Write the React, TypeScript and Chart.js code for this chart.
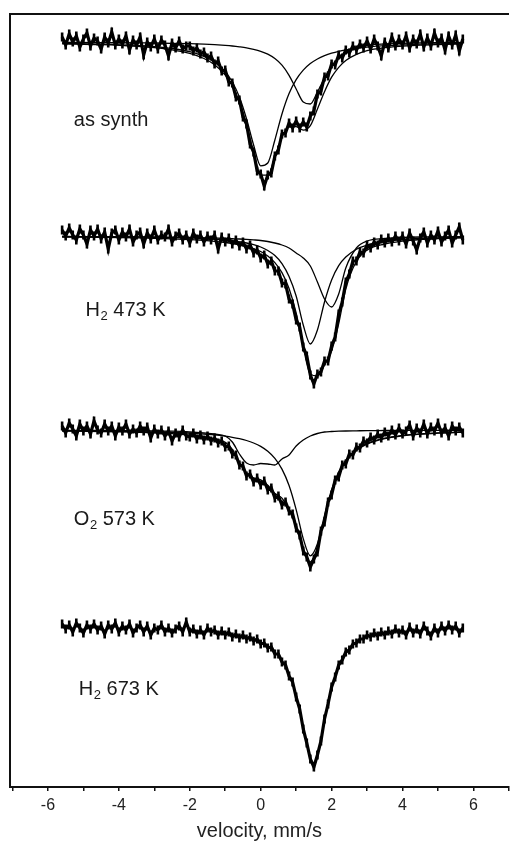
import { useEffect, useRef } from "react";
import { Chart, registerables } from "chart.js";

Chart.register(...registerables);

// Doppler velocity channels (mm/s)
const velocity = [
  -5.6, -5.5, -5.4, -5.3, -5.2, -5.1, -5.0, -4.9, -4.8, -4.7, -4.6, -4.5, -4.4, -4.3, -4.2, -4.1, -4.0, -3.9, -3.8, -3.7,
  -3.6, -3.5, -3.4, -3.3, -3.2, -3.1, -3.0, -2.9, -2.8, -2.7, -2.6, -2.5, -2.4, -2.3, -2.2, -2.1, -2.0, -1.9, -1.8, -1.7,
  -1.6, -1.5, -1.4, -1.3, -1.2, -1.1, -1.0, -0.9, -0.8, -0.7, -0.6, -0.5, -0.4, -0.3, -0.2, -0.1, 0.0, 0.1, 0.2, 0.3,
  0.4, 0.5, 0.6, 0.7, 0.8, 0.9, 1.0, 1.1, 1.2, 1.3, 1.4, 1.5, 1.6, 1.7, 1.8, 1.9, 2.0, 2.1, 2.2, 2.3,
  2.4, 2.5, 2.6, 2.7, 2.8, 2.9, 3.0, 3.1, 3.2, 3.3, 3.4, 3.5, 3.6, 3.7, 3.8, 3.9, 4.0, 4.1, 4.2, 4.3,
  4.4, 4.5, 4.6, 4.7, 4.8, 4.9, 5.0, 5.1, 5.2, 5.3, 5.4, 5.5, 5.6, 5.7,
];

// Measured spectra: relative transmission change (%) per channel
const asSynth = [
  0.5, -0.3, 0.8, 0.0, 0.6, -0.5, 0.3, 0.9, -0.4, 0.4, 0.1, -0.7, 0.5, -0.1, 1.0, -0.3, 0.3, -0.2, 0.6, -0.8,
  0.2, -0.3, 0.5, -1.3, 0.0, -0.5, 0.3, -0.7, 0.2, -0.3, -1.4, -0.1, -0.6, 0.1, -0.7, -0.4,
  -0.4, -0.9, -0.6, -1.2, -1.0, -1.6, -1.4, -2.2, -1.9, -2.9, -2.8, -4.0, -4.1, -5.5, -5.8, -7.5, -8.2, -10.2, -11.0, -12.9,
  -13.2, -14.4, -13.3, -13.1, -11.4, -10.8, -9.2, -9.1, -8.1, -8.6, -7.9, -8.6, -8.0, -8.5, -7.4, -6.9, -5.2, -4.9, -3.5, -3.4,
  -2.2, -2.3, -1.3, -1.6, -0.8, -1.1, -0.4, -0.8, -0.2, -0.6,
  0.1, -0.7, 0.3, -0.4, -1.4, 0.0, -0.6, 0.5, -0.4, 0.3, -0.3, 0.6, -0.6, 0.3, -0.2, 0.8, -0.5, 0.4, -0.4, 0.9,
  -0.1, 0.4, -0.8, 0.6, -0.3, 0.7, -0.9, 0.3,
];
const h2At473 = [
  0.6, 0.0, 0.8, 0.1, -0.4, 0.7, 0.1, -0.8, 0.6, 0.0, 0.7, -0.3, 0.4, -1.3, 0.3, 0.6, -0.4, 0.4, -0.1, 0.7,
  -0.6, 0.1, 0.4, -0.8, 0.3, -0.3, 0.6, -0.4, 0.1, -0.1, 0.7, -0.6, 0.0, 0.3, -0.4, 0.1, -0.7, 0.3, -0.3, 0.1,
  -0.6, 0.0, -0.4, 0.1, -1.3, -0.1,
  -0.6, -0.2, -0.8, -0.4, -1.0, -0.6, -1.3, -0.9, -1.7, -1.4, -2.2, -1.9, -2.8, -2.5, -3.5, -3.5, -4.7, -4.8, -6.3, -6.8,
  -8.4, -9.1, -11.1, -12.0, -13.9, -14.8, -13.8, -13.6, -12.5, -12.5, -11.0, -10.1, -7.8, -6.6, -4.6, -3.8, -2.5, -2.5, -1.6, -1.7,
  -0.9, -1.2, -0.6, -0.9, -0.3, -0.7, -0.2, -0.6, 0.0, -0.5,
  0.0, -0.8, 0.3, -0.5, -1.4, -0.2, 0.4, -0.7, 0.1, -0.4, 0.5, -0.6, 0.0, 0.6, -0.7, 0.1, 0.9, -0.4,
];
const o2At573 = [
  0.4, -0.3, 0.7, 0.1, -0.6, 0.6, -0.1, 0.4, -0.4, 0.9, 0.0, -0.3, 0.6, -0.1, 0.4, -0.6, 0.3, -0.1, 0.6, -0.4,
  0.1, -0.3, 0.4, -0.1, 0.3, -0.8, 0.1, -0.4, 0.0, -0.6, -0.1, -1.1, -0.3, -0.7, 0.0, -0.6,
  -0.7, -0.3, -0.9, -0.5, -1.0, -0.6, -1.1, -0.8, -1.3, -1.1, -1.7, -1.6, -2.4, -2.5, -3.5, -3.6, -4.6, -4.4, -5.2, -4.8,
  -5.5, -5.1, -6.0, -5.8, -6.8, -6.6, -7.5, -7.2, -8.1, -8.4, -9.8, -10.5, -12.1, -12.7, -13.7, -12.9, -12.2, -10.1, -9.2, -7.2,
  -6.5, -5.0, -4.7, -3.5, -3.4, -2.4, -2.5, -1.7, -1.8, -1.1, -1.3, -0.7, -1.0, -0.4, -0.8, -0.2, -0.6, 0.0, -0.5, 0.2,
  -0.4, -0.1, 0.5, -0.6, 0.2, -0.3, 0.6, -0.4, 0.3, -0.1, 0.7, -0.3, 0.2, -0.6, 0.4, -0.1, 0.3, -0.3,
];
const h2At673 = [
  0.5, 0.0, 0.4, -0.3, 0.6, 0.1, -0.4, 0.4, 0.0, 0.5, -0.1, 0.3, -0.5, 0.4, 0.0, 0.6, -0.3, 0.3, -0.1, 0.5,
  -0.4, 0.1, 0.4, -0.3, 0.3, -0.6, 0.1, -0.1, 0.4, -0.3, 0.1, -0.4, 0.0, 0.3, -0.3, 0.7, -0.3, 0.0, -0.5, -0.1,
  -0.6, 0.1, -0.3, -0.1, -0.6, -0.2,
  -0.6, -0.3, -0.8, -0.5, -0.9, -0.6, -1.0, -0.8, -1.2, -1.0, -1.5, -1.4, -1.9, -1.8, -2.5, -2.5, -3.3, -3.6, -4.7, -5.3,
  -6.8, -8.0, -10.0, -11.4, -13.0, -13.8, -12.6, -11.2, -9.0, -7.5, -5.8, -4.8, -3.6, -3.1, -2.3, -2.1, -1.5, -1.4, -1.0, -1.0,
  -0.6, -0.8, -0.4, -0.7, -0.3, -0.6, -0.2, -0.5, 0.0, -0.4, -0.1, -0.6, 0.2, -0.4, 0.0, -0.5, 0.3, -0.2, -0.7, 0.1,
  -0.4, 0.3, -0.2, 0.4, -0.1, 0.3, -0.4, 0.1,
];

// Fitted sub-spectra, sampled at these velocities (mm/s)
const fitVelocity = [
  -5.6, -4.5, -3.5, -3.0, -2.5, -2.0, -1.6, -1.3, -1.0, -0.8, -0.6, -0.4, -0.2, 0.0, 0.2, 0.4, 0.6,
  0.8, 1.0, 1.2, 1.4, 1.6, 1.8, 2.0, 2.2, 2.4, 2.7, 3.0, 3.5, 4.0, 4.5, 5.0, 5.7,
];
const asSynthFitA = [
  -0.14, -0.21, -0.34, -0.46, -0.65, -0.97, -1.43, -2.0, -2.97, -4.0, -5.5, -7.68, -10.3, -12.38, -12.1, -9.8, -7.2,
  -5.16, -3.76, -2.81, -2.16, -1.7, -1.37, -1.12, -0.93, -0.79, -0.63, -0.51, -0.37, -0.29, -0.22, -0.18, -0.14,
];
const asSynthFitB = [
  -0.04, -0.06, -0.09, -0.1, -0.13, -0.17, -0.22, -0.27, -0.34, -0.4, -0.48, -0.58, -0.73, -0.93, -1.22, -1.66, -2.32,
  -3.33, -4.7, -6.0, -6.2, -5.0, -3.6, -2.4, -1.6, -1.05, -0.6, -0.35, -0.2, -0.13, -0.09, -0.07, -0.05,
];
const asSynthFitSum = [
  -0.18, -0.27, -0.43, -0.56, -0.78, -1.14, -1.65, -2.27, -3.31, -4.4, -5.98, -8.26, -11.03, -13.31, -13.32, -11.46, -9.52,
  -8.49, -8.46, -8.81, -8.36, -6.7, -4.97, -3.52, -2.53, -1.84, -1.23, -0.86, -0.57, -0.42, -0.31, -0.25, -0.19,
];
const h2At473FitA = [
  -0.05, -0.07, -0.1, -0.13, -0.16, -0.21, -0.26, -0.33, -0.41, -0.48, -0.58, -0.7, -0.87, -1.1, -1.45, -1.96, -2.76,
  -4.05, -6.0, -8.9, -10.8, -9.4, -6.6, -4.4, -2.96, -2.1, -1.33, -0.91, -0.55, -0.36, -0.25, -0.19, -0.13,
];
const h2At473FitB = [
  -0.05, -0.06, -0.08, -0.1, -0.12, -0.15, -0.18, -0.2, -0.24, -0.27, -0.3, -0.34, -0.39, -0.45, -0.55, -0.7, -0.9,
  -1.2, -1.7, -2.2, -3.0, -4.6, -6.3, -7.1, -5.8, -3.2, -1.2, -0.5, -0.25, -0.15, -0.1, -0.08, -0.06,
];
const h2At473FitSum = [
  -0.1, -0.13, -0.18, -0.23, -0.28, -0.36, -0.44, -0.53, -0.65, -0.75, -0.88, -1.04, -1.26, -1.55, -2.0, -2.66, -3.66,
  -5.25, -7.7, -11.1, -13.8, -14.0, -12.9, -11.5, -8.76, -5.3, -2.53, -1.41, -0.8, -0.51, -0.35, -0.27, -0.19,
];
const o2At573FitC = [
  -0.08, -0.11, -0.16, -0.19, -0.24, -0.32, -0.41, -0.49, -0.62, -0.73, -0.87, -1.05, -1.3, -1.64, -2.13, -2.84, -3.91,
  -5.55, -7.96, -10.86, -12.58, -11.38, -8.53, -5.97, -4.19, -3.02, -1.96, -1.36, -0.82, -0.55, -0.39, -0.29, -0.2,
];
const o2At573FitD = [
  -0.03, -0.04, -0.06, -0.08, -0.12, -0.2, -0.3, -0.4, -0.6, -1.2, -2.4, -3.3, -3.5, -3.35, -3.4, -3.5, -2.9,
  -2.5, -1.6, -1.0, -0.6, -0.35, -0.2, -0.15, -0.12, -0.1, -0.08, -0.06, -0.05, -0.04, -0.03, -0.03, -0.02,
];
const o2At573FitSum = [
  -0.11, -0.15, -0.22, -0.27, -0.36, -0.52, -0.71, -0.89, -1.22, -1.93, -3.27, -4.35, -4.8, -4.99, -5.53, -6.34, -6.81,
  -8.05, -9.56, -11.86, -13.18, -11.73, -8.73, -6.12, -4.31, -3.12, -2.04, -1.42, -0.87, -0.59, -0.42, -0.32, -0.22,
];

// Vertical stacking offsets of the four spectra
const stackOffsets = [74.5, 55.1, 35.7, 15.8];

// Sample labels: [main, subscript, rest]
const sampleLabels = [
  ["as synth", "", ""],
  ["H", "2", " 473 K"],
  ["O", "2", " 573 K"],
  ["H", "2", " 673 K"],
];
const labelVelocity = [-5.27, -4.94, -5.27, -5.13];
const labelLevel = [66.07, 47.07, 26.17, 9.17];

const FONT = '"Liberation Sans", Arial, Helvetica, sans-serif';

const measured = [asSynth, h2At473, o2At573, h2At673];
const fits = [
  [asSynthFitA, asSynthFitB, asSynthFitSum],
  [h2At473FitA, h2At473FitB, h2At473FitSum],
  [o2At573FitC, o2At573FitD, o2At573FitSum],
  [],
];

const labelPlugin = {
  id: "sampleLabels",
  afterDatasetsDraw(chart: any) {
    const ctx = chart.ctx as CanvasRenderingContext2D;
    const xs = chart.scales.x;
    const ys = chart.scales.y;
    ctx.save();
    ctx.fillStyle = "#1a1a1a";
    ctx.textBaseline = "alphabetic";
    ctx.textAlign = "left";
    sampleLabels.forEach((parts, i) => {
      let px = xs.getPixelForValue(labelVelocity[i]);
      const py = ys.getPixelForValue(labelLevel[i]);
      ctx.font = `20px ${FONT}`;
      ctx.fillText(parts[0], px, py);
      px += ctx.measureText(parts[0]).width;
      if (parts[1]) {
        ctx.font = `13px ${FONT}`;
        ctx.fillText(parts[1], px + 0.5, py + 4);
        px += ctx.measureText(parts[1]).width + 0.5;
      }
      if (parts[2]) {
        ctx.font = `20px ${FONT}`;
        ctx.fillText(parts[2], px, py);
      }
    });
    ctx.restore();
  },
};

export default function App() {
  const canvasRef = useRef<HTMLCanvasElement>(null);

  useEffect(() => {
    const canvas = canvasRef.current;
    if (!canvas) return;

    const datasets: any[] = [];
    measured.forEach((values, i) => {
      datasets.push({
        label: `spectrum ${i + 1}`,
        data: velocity.map((v, k) => ({ x: v, y: values[k] + stackOffsets[i] })),
        borderColor: "#000",
        backgroundColor: "#000",
        borderWidth: 3.2,
        pointStyle: "line",
        pointRotation: 90,
        pointRadius: 4.5,
        pointBorderWidth: 2.6,
        pointBorderColor: "#000",
        tension: 0,
        fill: false,
      });
    });
    fits.forEach((set, i) => {
      set.forEach((values, j) => {
        datasets.push({
          label: `fit ${i + 1}.${j + 1}`,
          data: fitVelocity.map((v, k) => ({ x: v, y: values[k] + stackOffsets[i] })),
          borderColor: "#000",
          borderWidth: 1.3,
          pointRadius: 0,
          cubicInterpolationMode: "monotone",
          fill: false,
        });
      });
    });

    const chart = new Chart(canvas, {
      type: "line",
      data: { datasets },
      options: {
        animation: false,
        responsive: false,
        events: [],
        layout: { padding: { left: 10, top: 14, right: 0, bottom: 0 } },
        plugins: {
          legend: { display: false },
          tooltip: { enabled: false },
        },
        scales: {
          x: {
            type: "linear",
            position: "bottom",
            min: -7.07,
            max: 7.0,
            afterFit: (s: any) => {
              s.height = 56;
            },
            border: { display: true, color: "#111", width: 2 },
            grid: {
              display: true,
              drawOnChartArea: false,
              drawTicks: true,
              tickLength: 4,
              color: "#111",
              lineWidth: 1.5,
            },
            ticks: {
              stepSize: 1,
              includeBounds: false,
              autoSkip: false,
              maxRotation: 0,
              padding: 5,
              color: "#222",
              font: { family: FONT, size: 16 },
              callback: (v: any) => (Math.round(Number(v)) % 2 === 0 ? String(v) : ""),
            },
            title: {
              display: true,
              text: "velocity, mm/s",
              color: "#222",
              font: { family: FONT, size: 20 },
              padding: { top: 0, bottom: 0 },
            },
          },
          xTop: {
            type: "linear",
            position: "top",
            min: -7.07,
            max: 7.0,
            afterFit: (s: any) => {
              s.height = 0;
            },
            border: { display: true, color: "#111", width: 2 },
            grid: { display: false },
            ticks: { display: false },
          },
          y: {
            type: "linear",
            min: 0,
            max: 77.3,
            afterFit: (s: any) => {
              s.width = 0;
            },
            border: { display: true, color: "#111", width: 2 },
            grid: { display: false },
            ticks: { display: false },
          },
        },
      } as any,
      plugins: [labelPlugin],
    });

    return () => chart.destroy();
  }, []);

  return (
    <div style={{ position: "absolute", left: 0, top: 0, width: 516, height: 843, background: "#fff" }}>
      <canvas ref={canvasRef} width={516} height={843} style={{ display: "block", width: 516, height: 843 }} />
    </div>
  );
}
